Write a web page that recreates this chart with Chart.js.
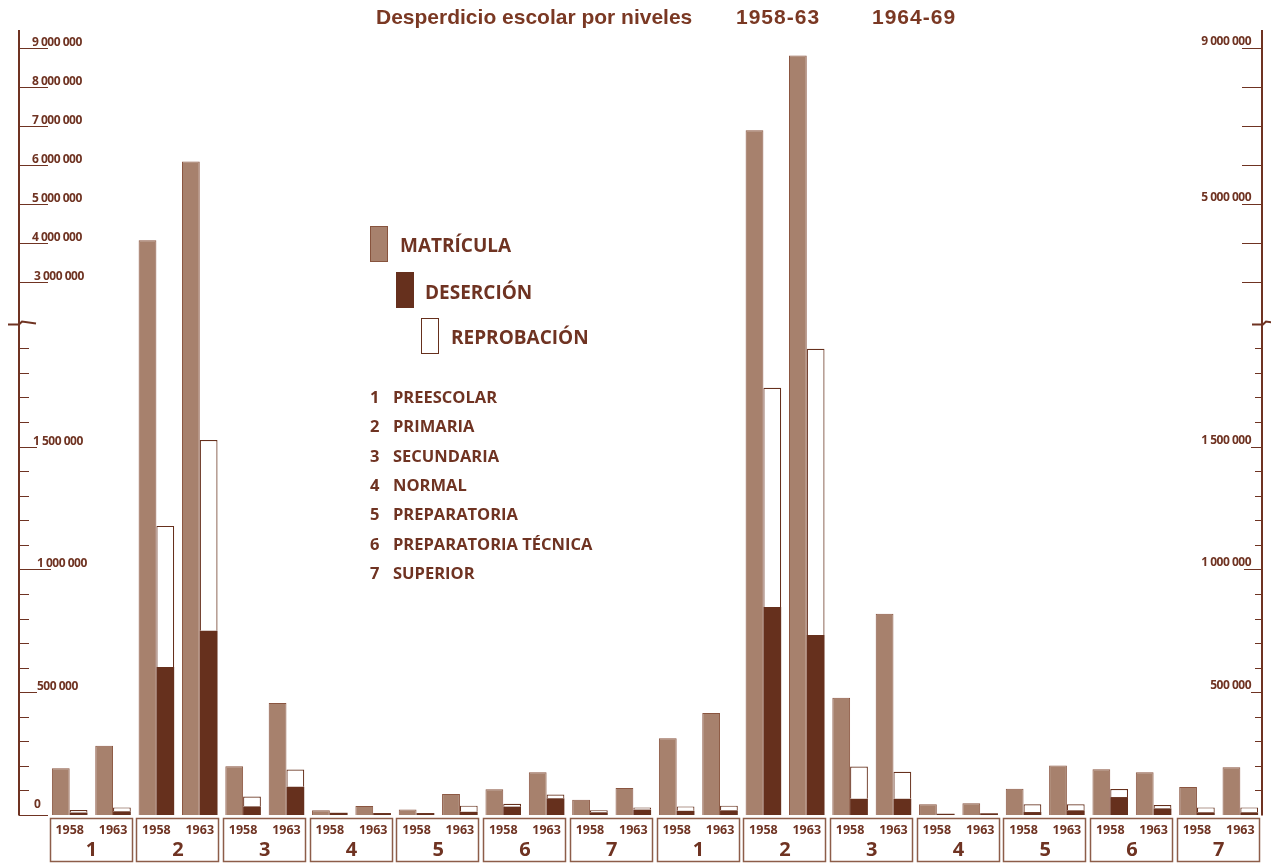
<!DOCTYPE html>
<html>
<head>
<meta charset="utf-8">
<title>Desperdicio escolar por niveles</title>
<script src="https://cdn.jsdelivr.net/npm/chart.js@4.4.1/dist/chart.umd.min.js"></script>
<style>
  body { margin: 0; background: #fff; }
  #contenedor { position: relative; width: 1271px; height: 863px; }
  .titulo { position: absolute; top: 4px; font: bold 21px "Liberation Sans", Arial, sans-serif; color: #7a3823; line-height: 25px; white-space: nowrap; }
  .ley { position: absolute; font-family: "Open Sans", sans-serif; font-weight: bold; color: #6f3322; white-space: nowrap; }
  .caja { position: absolute; width: 18px; height: 36px; box-sizing: border-box; }
</style>
</head>
<body>
<div id="contenedor">
  <canvas id="grafico" width="1271" height="863"></canvas>
  <div class="titulo" style="left:376px">Desperdicio escolar por niveles</div>
  <div class="titulo" style="left:736px;letter-spacing:1px">1958-63</div>
  <div class="titulo" style="left:872px;letter-spacing:1px">1964-69</div>

  <div class="caja" style="left:370px;top:226px;background:#a7816d;border:1px solid #87533d"></div>
  <div class="ley" style="left:400px;top:233px;font-size:19px;line-height:24px">MATRÍCULA</div>
  <div class="caja" style="left:396px;top:272px;background:#66301d"></div>
  <div class="ley" style="left:425px;top:280px;font-size:19px;line-height:24px">DESERCIÓN</div>
  <div class="caja" style="left:421px;top:318px;background:#fff;border:1.2px solid #66301d"></div>
  <div class="ley" style="left:451px;top:325px;font-size:19px;line-height:24px">REPROBACIÓN</div>
  <div id="lista"></div>
</div>

<script>
// niveles educativos (1..7) y años mostrados bajo cada barra
const niveles = ['PREESCOLAR', 'PRIMARIA', 'SECUNDARIA', 'NORMAL', 'PREPARATORIA', 'PREPARATORIA TÉCNICA', 'SUPERIOR'];
const anios = ['1958', '1963'];
const periodos = ['1958-63', '1964-69'];

// una entrada por barra: periodo 1 (niveles 1-7, 1958 y 1963), luego periodo 2
const matricula = [190000, 282000, 4080000, 6100000, 198000, 456000, 19000, 37000, 22000, 86000, 105000, 174000, 62000, 110000,
                   312000, 415000, 6900000, 8820000, 477000, 819000, 44000, 48000, 107000, 202000, 186000, 174000, 114000, 194000];
const desercion = [10000, 15000, 603000, 750000, 35000, 115000, 9000, 8000, 8000, 13000, 34000, 68000, 11000, 22000,
                   17000, 19000, 847000, 733000, 66000, 66000, 5000, 7000, 12000, 19000, 73000, 27000, 11000, 11000];
const reprobacion = [10000, 16000, 574000, 777000, 40000, 70000, 0, 0, 0, 25000, 12000, 15000, 8000, 9000,
                     18000, 19000, 892000, 1165000, 131000, 110000, 0, 0, 32000, 25000, 33000, 14000, 20000, 20000];

// marcas del eje
const ticksBajos = [0, 500000, 1000000, 1500000];
const ticksAltos = [3000000, 4000000, 5000000, 6000000, 7000000, 8000000, 9000000];
const etiquetasDer = [500000, 1000000, 1500000, 5000000, 9000000];

const CORTE = 2000000;

// eje cortado: hasta 2 millones escala normal, arriba comprimida
function comprimir(v) {
    if (v <= CORTE) return v;
    if (v <= 3000000) return CORTE + (v - CORTE) * 0.168;
    return 2168000 + (v - 3000000) * 0.1588;
}

function fmt(v) {
    return String(v).replace(/\B(?=(\d{3})+(?!\d))/g, ' ');
}

const labels = [];
periodos.forEach(p => niveles.forEach((n, i) => anios.forEach(a => labels.push((i + 1) + ' ' + a))));

const lista = document.getElementById('lista');
niveles.forEach((n, i) => {
    const top = 386 + i * 29.3;
    lista.insertAdjacentHTML('beforeend',
        '<div class="ley" style="left:370px;top:' + top + 'px;font-size:16.5px;line-height:22px">' + (i + 1) + '</div>' +
        '<div class="ley" style="left:393px;top:' + top + 'px;font-size:16.5px;line-height:22px">' + n + '</div>');
});

const COLOR = '#6f3322';

const ejes = {
    id: 'ejes',
    afterDraw(chart) {
        const ctx = chart.ctx;
        const ys = chart.scales.y, xs = chart.scales.x;
        const py = v => Math.round(ys.getPixelForValue(comprimir(v))) + 0.5;
        const base = py(0);
        ctx.save();
        ctx.strokeStyle = COLOR;
        ctx.fillStyle = COLOR;

        // eje izquierdo
        const xi = 19;
        ctx.lineWidth = 2;
        ctx.beginPath();
        ctx.moveTo(xi, 30); ctx.lineTo(xi, base);
        ctx.stroke();
        ctx.lineWidth = 1.2;
        ctx.beginPath();
        for (let v = 100000; v < CORTE; v += 100000) {
            if (v % 500000 === 0) continue;
            ctx.moveTo(xi, py(v)); ctx.lineTo(xi + 10, py(v));
        }
        ctx.moveTo(xi, base); ctx.lineTo(chart.chartArea.left, base);
        ctx.moveTo(xi, py(500000)); ctx.lineTo(xi + 18, py(500000));
        ctx.moveTo(xi, py(1000000)); ctx.lineTo(xi + 32, py(1000000));
        ctx.moveTo(xi, py(1500000)); ctx.lineTo(xi + 18, py(1500000));
        ticksAltos.forEach(v => { ctx.moveTo(xi, py(v)); ctx.lineTo(xi + 29, py(v)); });
        ctx.stroke();

        ctx.font = 'bold 12px "Open Sans", sans-serif';
        ctx.letterSpacing = '-0.5px';
        ctx.textAlign = 'left';
        ctx.textBaseline = 'alphabetic';
        const sangria = {0: 15, 500000: 18, 1000000: 18, 1500000: 14, 3000000: 15};
        ticksBajos.concat(ticksAltos).forEach(v => {
            ctx.fillText(fmt(v), xi + (sangria[v] !== undefined ? sangria[v] : 13), py(v) - (v === 0 ? 8 : 3));
        });

        // eje derecho
        const xd = chart.chartArea.right;
        ctx.lineWidth = 2;
        ctx.beginPath();
        ctx.moveTo(xd, 30); ctx.lineTo(xd, base);
        ctx.stroke();
        ctx.lineWidth = 1.2;
        ctx.beginPath();
        for (let v = 100000; v < CORTE; v += 100000) {
            let largo = 7;
            if (v === 1000000) largo = 18;
            else if (v % 500000 === 0) largo = 11;
            ctx.moveTo(xd, py(v)); ctx.lineTo(xd - largo, py(v));
        }
        ticksAltos.forEach(v => { ctx.moveTo(xd, py(v)); ctx.lineTo(xd - 20, py(v)); });
        ctx.stroke();
        ctx.textAlign = 'right';
        etiquetasDer.forEach(v => ctx.fillText(fmt(v), xd - 11, py(v) - 4));
        ctx.letterSpacing = '0px';

        // marcas de corte
        const yc = py(CORTE) - 1;
        ctx.lineWidth = 2;
        [xi - 11, xd - 10].forEach(x0 => {
            ctx.beginPath();
            ctx.moveTo(x0, yc + 1); ctx.lineTo(x0 + 11, yc + 1);
            ctx.lineTo(x0 + 14, yc - 2);
            ctx.lineTo(x0 + 28, yc);
            ctx.stroke();
        });

        // cajas inferiores con años y número de nivel
        const paso = xs.getPixelForValue(1) - xs.getPixelForValue(0);
        ctx.strokeStyle = '#8d5d49';
        ctx.lineWidth = 1.5;
        ctx.textAlign = 'center';
        for (let g = 0; g < labels.length / 2; g++) {
            const izq = xs.getPixelForValue(2 * g) - paso / 2;
            ctx.strokeRect(Math.round(izq + 1.5) + 0.5, base + 3, Math.round(2 * paso - 5), 43);
            ctx.font = 'bold 12.5px "Open Sans", sans-serif';
            anios.forEach((a, j) => ctx.fillText(a, xs.getPixelForValue(2 * g + j), base + 18.5));
            ctx.font = 'bold 20px "Open Sans", sans-serif';
            ctx.fillText(String(g % niveles.length + 1), izq + paso, base + 40.5);
        }
        ctx.restore();
    }
};

const desercionVis = desercion.map(comprimir);
const reprobacionVis = reprobacion.map((r, i) => comprimir(desercion[i] + r) - comprimir(desercion[i]));

new Chart(document.getElementById('grafico'), {
    type: 'bar',
    data: {
        labels: labels,
        datasets: [{
            label: 'MATRÍCULA',
            data: matricula.map(comprimir),
            stack: 'm',
            backgroundColor: '#a7816d',
            borderColor: '#8a5540',
            borderWidth: 1
        }, {
            label: 'DESERCIÓN',
            data: desercionVis,
            stack: 'd',
            backgroundColor: '#66301d',
            borderWidth: 0
        }, {
            label: 'REPROBACIÓN',
            data: reprobacionVis,
            stack: 'd',
            backgroundColor: '#ffffff',
            borderColor: '#66301d',
            borderWidth: 1.2,
            borderSkipped: 'start'
        }]
    },
    options: {
        responsive: false,
        animation: false,
        datasets: { bar: { categoryPercentage: 0.82, barPercentage: 1 } },
        layout: { padding: { left: 48, right: 9, top: 29, bottom: 48 } },
        scales: {
            x: { display: false, stacked: true },
            y: { display: false, stacked: true, min: 0, max: 3200000 }
        },
        plugins: {
            legend: { display: false },
            tooltip: { enabled: false },
            title: { display: false }
        }
    },
    plugins: [ejes]
});
</script>
</body>
</html>
